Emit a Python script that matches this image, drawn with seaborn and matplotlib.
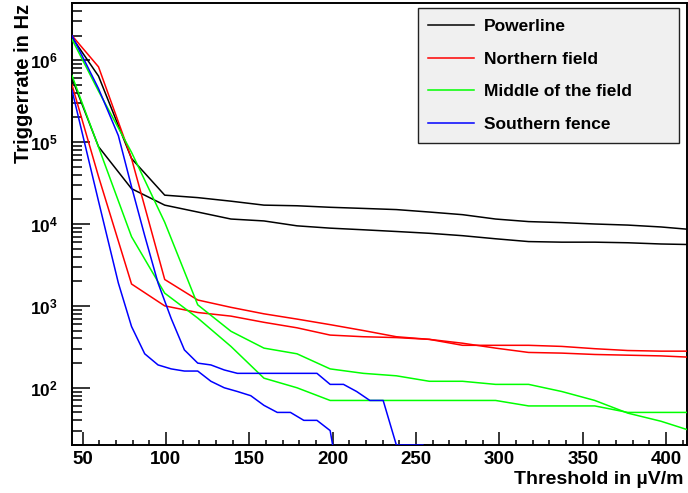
import numpy as np
import pandas as pd
import matplotlib
matplotlib.use('Agg')
import matplotlib.pyplot as plt
import seaborn as sns
from matplotlib.ticker import LogLocator, FuncFormatter, NullFormatter, MultipleLocator
from matplotlib.lines import Line2D

# thresholds in uV/m (coarse steps for most runs, fine steps for the fence)
x_coarse = [43.7, 59.6, 79.4, 99.3, 119.1, 139.0, 158.8, 178.6, 198.5, 218.4,
            238.2, 258.0, 277.9, 297.7, 317.5, 337.4, 357.2, 377.0, 396.9, 416.7]
x_fence_a = [43.7, 59.6, 71.5, 79.4, 87.3, 95.3, 103.2, 111.1, 119.1, 127.0, 135.0, 142.9, 150.9,
             158.8, 166.8, 174.7, 182.7, 190.6, 198.5, 206.5, 214.4, 222.3, 230.3, 238.2, 246.1, 254.1]
x_fence_b = [43.7, 59.6, 71.5, 79.4, 87.3, 95.3, 103.2, 111.1, 119.1, 127.0, 135.0, 142.9, 150.9,
             158.8, 166.8, 174.7, 182.7, 190.6, 198.5, 200.0]

# trigger rates in Hz
powerline_a = [1.9e6, 6.4e5, 6.3e4, 2.25e4, 2.1e4, 1.9e4, 1.7e4, 1.67e4, 1.6e4, 1.55e4,
               1.5e4, 1.4e4, 1.3e4, 1.15e4, 1.07e4, 1.04e4, 1.0e4, 9.7e3, 9.2e3, 8.5e3]
powerline_b = [6.0e5, 8.8e4, 2.7e4, 1.7e4, 1.4e4, 1.15e4, 1.09e4, 9.5e3, 8.9e3, 8.5e3,
               8.1e3, 7.7e3, 7.2e3, 6.6e3, 6.1e3, 6.0e3, 6.0e3, 5.9e3, 5.7e3, 5.6e3]
north_a = [2.0e6, 8.3e5, 6.3e4, 2.1e3, 1.18e3, 9.6e2, 8.0e2, 6.9e2, 5.9e2, 5.0e2,
           4.2e2, 3.9e2, 3.3e2, 3.3e2, 3.3e2, 3.2e2, 3.0e2, 2.85e2, 2.8e2, 2.8e2]
north_b = [5.0e5, 3.8e4, 1.85e3, 1.0e3, 8.3e2, 7.5e2, 6.3e2, 5.4e2, 4.4e2, 4.2e2,
           4.1e2, 3.9e2, 3.5e2, 3.05e2, 2.7e2, 2.65e2, 2.55e2, 2.5e2, 2.45e2, 2.35e2]
middle_a = [1.8e6, 4.2e5, 7.5e4, 1.05e4, 1.03e3, 4.9e2, 3.05e2, 2.6e2, 1.7e2, 1.5e2,
            1.4e2, 1.2e2, 1.2e2, 1.1e2, 1.1e2, 9.0e1, 7.0e1, 4.9e1, 3.9e1, 2.9e1]
middle_b = [6.5e5, 8.7e4, 7.0e3, 1.43e3, 7.1e2, 3.2e2, 1.31e2, 1.0e2, 7.0e1, 7.0e1,
            7.0e1, 7.0e1, 7.0e1, 7.0e1, 6.0e1, 6.0e1, 6.0e1, 5.0e1, 5.0e1, 5.0e1]
south_a = [2.0e6, 4.5e5, 1.2e5, 2.85e4, 7.2e3, 1.9e3, 7.0e2, 2.9e2, 2.0e2, 1.9e2, 1.65e2, 1.5e2, 1.5e2,
           1.5e2, 1.5e2, 1.5e2, 1.5e2, 1.5e2, 1.1e2, 1.1e2, 9.0e1, 7.0e1, 7.0e1, 0, 0, 0]
south_b = [4.3e5, 1.9e4, 1.9e3, 5.6e2, 2.6e2, 1.9e2, 1.7e2, 1.6e2, 1.6e2, 1.2e2, 1.0e2, 9.0e1, 8.0e1,
           6.1e1, 5.0e1, 5.0e1, 4.0e1, 4.0e1, 3.0e1, 0]

sites = ['Powerline', 'Northern field', 'Middle of the field', 'Southern fence']
colors = ['#000000', '#ff0000', '#00ff00', '#0000ff']

y_lo, y_hi = 20, 5e6

runs = [
    ('Powerline', 'a', x_coarse, powerline_a),
    ('Powerline', 'b', x_coarse, powerline_b),
    ('Northern field', 'a', x_coarse, north_a),
    ('Northern field', 'b', x_coarse, north_b),
    ('Middle of the field', 'a', x_coarse, middle_a),
    ('Middle of the field', 'b', x_coarse, middle_b),
    ('Southern fence', 'a', x_fence_a, south_a),
    ('Southern fence', 'b', x_fence_b, south_b),
]
frames = []
for site, run, xs, ys in runs:
    frames.append(pd.DataFrame({'threshold': xs,
                                'rate': np.maximum(np.array(ys, dtype=float), y_lo),  # zero rates sit on the floor like in ROOT
                                'site': site, 'run': run}))
df = pd.concat(frames, ignore_index=True)

plt.rcParams['font.family'] = ['Liberation Sans', 'DejaVu Sans']
plt.rcParams['font.weight'] = 'bold'
plt.rcParams['mathtext.fontset'] = 'custom'
plt.rcParams['mathtext.bf'] = 'Liberation Sans:bold'
plt.rcParams['mathtext.rm'] = 'Liberation Sans:bold'

fig = plt.figure(figsize=(6.88, 4.93), dpi=100)
ax = fig.add_axes([72 / 688, 48 / 493, 615 / 688, 442 / 493])

sns.lineplot(data=df, x='threshold', y='rate', hue='site', units='run', estimator=None,
             sort=False, hue_order=sites, palette=colors, legend=False, linewidth=1.1, ax=ax)
for ln in ax.lines:
    ln.set_zorder(3)

ax.set_yscale('log')
ax.set_xlim(43.7, 412.5)
ax.set_ylim(y_lo, y_hi)

ax.xaxis.set_major_locator(MultipleLocator(50))
ax.xaxis.set_minor_locator(MultipleLocator(10))
ax.yaxis.set_major_locator(LogLocator(base=10, numticks=15))
ax.yaxis.set_minor_locator(LogLocator(base=10, subs=np.arange(2, 10), numticks=15))
ax.yaxis.set_major_formatter(FuncFormatter(lambda v, p: r'$\mathbf{10^{%d}}$' % int(round(np.log10(v)))))
ax.yaxis.set_minor_formatter(NullFormatter())

ax.tick_params(axis='x', which='major', direction='in', length=9.5, width=1.1, labelsize=13.5, pad=4)
ax.tick_params(axis='x', which='minor', direction='in', length=3.6, width=1.1)
ax.tick_params(axis='y', which='major', direction='in', length=13, width=1.1, labelsize=12.5, pad=10)
ax.tick_params(axis='y', which='minor', direction='in', length=7, width=1.1)
ax.tick_params(top=False, right=False, which='both')
for s in ax.spines.values():
    s.set_linewidth(1.4)

ax.set_xlabel('Threshold in µV/m', fontsize=14, fontweight='bold', loc='right')
ax.xaxis.set_label_coords(0.9935, -0.058)
ax.set_ylabel('Triggerrate in Hz', fontsize=14.5, fontweight='bold', loc='top')
ax.yaxis.set_label_coords(-0.064, 0.997)

handles = [Line2D([], [], color=c, lw=1.1) for c in colors]
leg = ax.legend(handles, sites, loc='upper left', bbox_to_anchor=(0.5621, 0.686, 0.4254, 0.302),
                mode='expand', borderaxespad=0, fontsize=12.5, handlelength=2.6, handletextpad=0.6,
                labelspacing=1.0, borderpad=0.62, fancybox=False, framealpha=1)
leg.get_frame().set_facecolor('#f0f0f0')
leg.get_frame().set_edgecolor('#222222')
leg.get_frame().set_linewidth(1.0)

fig.savefig('out.png', dpi=100)
